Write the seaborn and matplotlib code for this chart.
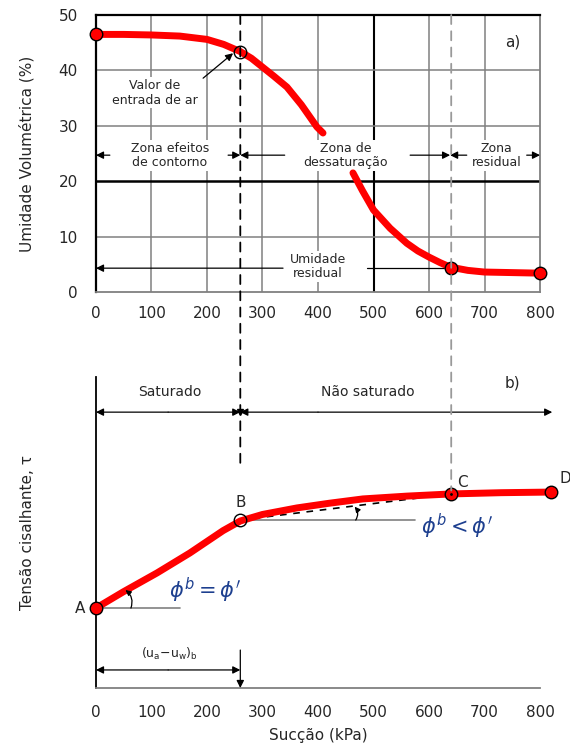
import matplotlib
matplotlib.use("Agg")
import matplotlib.pyplot as plt
import seaborn as sns
from matplotlib.patches import ConnectionPatch

# ---------------- data ----------------
suction_swcc_a = [0, 50, 100, 151, 200, 230, 260, 280, 300, 320, 344, 370, 398, 409]
theta_swcc_a = [46.5, 46.5, 46.4, 46.2, 45.6, 44.7, 43.4, 42.2, 40.6, 39.0, 37.0, 33.8, 29.8, 28.7]
suction_swcc_b = [463, 480, 500, 530, 560, 580, 600, 620, 638, 670, 700, 750, 800]
theta_swcc_b = [21.5, 18.3, 14.8, 11.5, 8.8, 7.4, 6.3, 5.3, 4.5, 3.9, 3.6, 3.5, 3.4]

swcc_pts_x = [0, 260, 640, 800]
swcc_pts_y = [46.5, 43.4, 4.4, 3.4]
swcc_pts_filled = [True, False, True, True]

suction_tau = [0, 49, 110, 169, 229, 260, 300, 362, 420, 481, 560, 640, 730, 820]
tau = [25.7, 30.9, 37.0, 43.4, 50.6, 53.7, 55.8, 57.9, 59.4, 60.8, 61.7, 62.4, 62.8, 63.0]

tau_pts_labels = ["A", "B", "C", "D"]
tau_pts_x = [0, 260, 640, 820]
tau_pts_y = [25.7, 54.0, 62.4, 63.0]
tau_pts_filled = [True, False, True, True]

air_entry = 260
residual = 640
theta_residual = 4.3

x_ticks = [0, 100, 200, 300, 400, 500, 600, 700, 800]
y_ticks = [0, 10, 20, 30, 40, 50]

# ---------------- style ----------------
sns.set_style("white")
plt.rcParams["font.family"] = ["DejaVu Sans"]
plt.rcParams["mathtext.fontset"] = "dejavusans"

fig = plt.figure(figsize=(5.7, 7.51), dpi=100)
ax1 = fig.add_axes([0.1684, 0.6112, 0.779, 0.3688])
ax2 = fig.add_axes([0.1684, 0.0839, 0.779, 0.4141])

GRAY = "#808080"
BOX = dict(boxstyle="square,pad=0.15", fc="white", ec="none")

# ---------------- top panel ----------------
ax1.set_xlim(0, 800)
ax1.set_ylim(0, 50)
for xv in x_ticks[1:-1]:
    dark = xv == 500
    ax1.axvline(xv, color="black" if dark else GRAY, lw=1.5 if dark else 1.1, zorder=0)
for yv in y_ticks[1:-1]:
    dark = yv == 20
    ax1.axhline(yv, color="black" if dark else GRAY, lw=1.8 if dark else 1.1, zorder=0)

sns.lineplot(x=suction_swcc_a, y=theta_swcc_a, ax=ax1, color="red", lw=5,
             sort=False, estimator=None, zorder=3, solid_capstyle="round")
sns.lineplot(x=suction_swcc_b, y=theta_swcc_b, ax=ax1, color="red", lw=5,
             sort=False, estimator=None, zorder=3, solid_capstyle="round")
for px, py, f in zip(swcc_pts_x, swcc_pts_y, swcc_pts_filled):
    ax1.plot(px, py, "o", ms=9, mfc="red" if f else "none", mec="black",
             mew=1.0, zorder=5, clip_on=False)

ax1.set_xticks(x_ticks)
ax1.set_yticks(y_ticks)
ax1.tick_params(length=0, labelsize=11, pad=10)
ax1.tick_params(axis="y", pad=13)
ax1.set_ylabel("Umidade Volumétrica (%)", fontsize=11, labelpad=17)
for s in ["top", "left"]:
    ax1.spines[s].set_color("black")
    ax1.spines[s].set_linewidth(1.6)
for s in ["right", "bottom"]:
    ax1.spines[s].set_color(GRAY)
    ax1.spines[s].set_linewidth(1.3)

ax1.text(751, 45.1, "a)", fontsize=11, ha="center", va="center")

arr = dict(arrowstyle="-|>", color="black", lw=0.9, mutation_scale=11,
           shrinkA=0, shrinkB=0)
yz = 24.7
for x0, x1 in [(25, 0), (238, 260), (340, 260), (566, 638), (668, 638), (776, 800)]:
    ax1.annotate("", xy=(x1, yz), xytext=(x0, yz), arrowprops=arr)
ax1.text(133, yz, "Zona efeitos\nde contorno", fontsize=9, ha="center",
         va="center", linespacing=1.1, bbox=BOX, zorder=2)
ax1.text(450, yz, "Zona de\ndessaturação", fontsize=9, ha="center",
         va="center", linespacing=1.1, bbox=BOX, zorder=2)
ax1.text(722, yz, "Zona\nresidual", fontsize=9, ha="center", va="center",
         linespacing=1.1, bbox=BOX, zorder=2)

ax1.annotate("", xy=(0, theta_residual), xytext=(337, theta_residual), arrowprops=arr)
ax1.plot([488, 632], [theta_residual, theta_residual], color="black", lw=0.9, zorder=2)
ax1.text(400, 4.6, "Umidade\nresidual", fontsize=9, ha="center", va="center",
         linespacing=1.1, bbox=BOX, zorder=2)

ax1.text(106, 36, "Valor de\nentrada de ar", fontsize=9, ha="center",
         va="center", linespacing=1.2, bbox=BOX, zorder=2)
ax1.annotate("", xy=(247, 43.1), xytext=(193, 38.6), arrowprops=arr)

# ---------------- bottom panel ----------------
ax2.set_xlim(0, 800)
ax2.set_ylim(0, 100)
sns.lineplot(x=suction_tau, y=tau, ax=ax2, color="red", lw=5, sort=False,
             estimator=None, zorder=3, solid_capstyle="round")
ax2.lines[-1].set_clip_on(False)
for px, py, f in zip(tau_pts_x, tau_pts_y, tau_pts_filled):
    ax2.plot(px, py, "o", ms=9, mfc="red" if f else "none", mec="black",
             mew=1.0, zorder=5, clip_on=False)
ax2.plot(tau_pts_x[2], tau_pts_y[2], ".", ms=2, color="black", zorder=6)

lbl_off = {"A": (-29, 0), "B": (0, 5.5), "C": (21, 3.8), "D": (25, 4.5)}
for lab, px, py in zip(tau_pts_labels, tau_pts_x, tau_pts_y):
    dx, dy = lbl_off[lab]
    ax2.text(px + dx, py + dy, lab, fontsize=11, ha="center", va="center")

ax2.set_xticks(x_ticks)
ax2.set_yticks([])
ax2.tick_params(length=0, labelsize=11, pad=12)
ax2.set_xlabel("Sucção (kPa)", fontsize=11, labelpad=6)
ax2.set_ylabel("Tensão cisalhante, τ", fontsize=11, labelpad=44)
ax2.spines["top"].set_visible(False)
ax2.spines["right"].set_visible(False)
ax2.spines["left"].set_color("black")
ax2.spines["left"].set_linewidth(1.3)
ax2.spines["bottom"].set_color(GRAY)
ax2.spines["bottom"].set_linewidth(1.3)

ax2.text(751, 98, "b)", fontsize=11, ha="center", va="center")

# reference lines
ax2.plot([0, 151], [tau_pts_y[0]] * 2, color=GRAY, lw=1.2, zorder=1)
ax2.plot([260, 575], [tau_pts_y[1]] * 2, color=GRAY, lw=1.2, zorder=1)
ax2.plot([tau_pts_x[1], tau_pts_x[2]], [tau_pts_y[1], tau_pts_y[2]], color="black",
         lw=1.2, ls=(0, (4, 4)), zorder=2)
arc = dict(arrowstyle="-|>", color="black", lw=0.9, mutation_scale=8,
           shrinkA=0, shrinkB=0, connectionstyle="arc3,rad=0.35")
ax2.annotate("", xy=(53, 31.5), xytext=(63, tau_pts_y[0]), arrowprops=arc)
ax2.annotate("", xy=(466, 58.3), xytext=(468, tau_pts_y[1]), arrowprops=arc)

ax2.text(196, 31.5, r"$\phi^b = \phi'$", fontsize=15, color="#1d3f8f",
         ha="center", va="center")
ax2.text(650, 51.8, r"$\phi^b < \phi'$", fontsize=15, color="#1d3f8f",
         ha="center", va="center")

# saturado zones
yb = 88.7
ax2.annotate("", xy=(0, yb), xytext=(130, yb), arrowprops=arr)
ax2.annotate("", xy=(260, yb), xytext=(130, yb), arrowprops=arr)
ax2.annotate("", xy=(260, yb), xytext=(400, yb), arrowprops=arr)
ax2.annotate("", xy=(822, yb), xytext=(400, yb), arrowprops=arr,
             annotation_clip=False)
ax2.text(133, 95.2, "Saturado", fontsize=10, ha="center", va="center")
ax2.text(490, 95.2, "Não saturado", fontsize=10, ha="center", va="center")

# (ua-uw)b
yu = 5.8
ax2.annotate("", xy=(0, yu), xytext=(130, yu), arrowprops=arr)
ax2.annotate("", xy=(260, yu), xytext=(130, yu), arrowprops=arr)
ax2.annotate("", xy=(260, 0), xytext=(260, 12.2), arrowprops=arr)
ax2.text(133, 10.8, r"(u$_\mathregular{a}$−u$_\mathregular{w}$)$_\mathregular{b}$",
         fontsize=9, ha="center", va="center")

# cross-panel dashed lines
con1 = ConnectionPatch(xyA=(air_entry, 50), coordsA=ax1.transData,
                       xyB=(air_entry, 71.7), coordsB=ax2.transData,
                       color="black", lw=1.3, ls=(0, (5, 4)), zorder=4)
fig.add_artist(con1)
con2 = ConnectionPatch(xyA=(residual, 50), coordsA=ax1.transData,
                       xyB=(residual, 63.5), coordsB=ax2.transData,
                       color="#999999", lw=1.3, ls=(0, (5, 4)), zorder=4)
fig.add_artist(con2)
ax2.plot([air_entry], [yb], marker="v", color="black", ms=5, zorder=6)

fig.savefig("out.png", dpi=100)
